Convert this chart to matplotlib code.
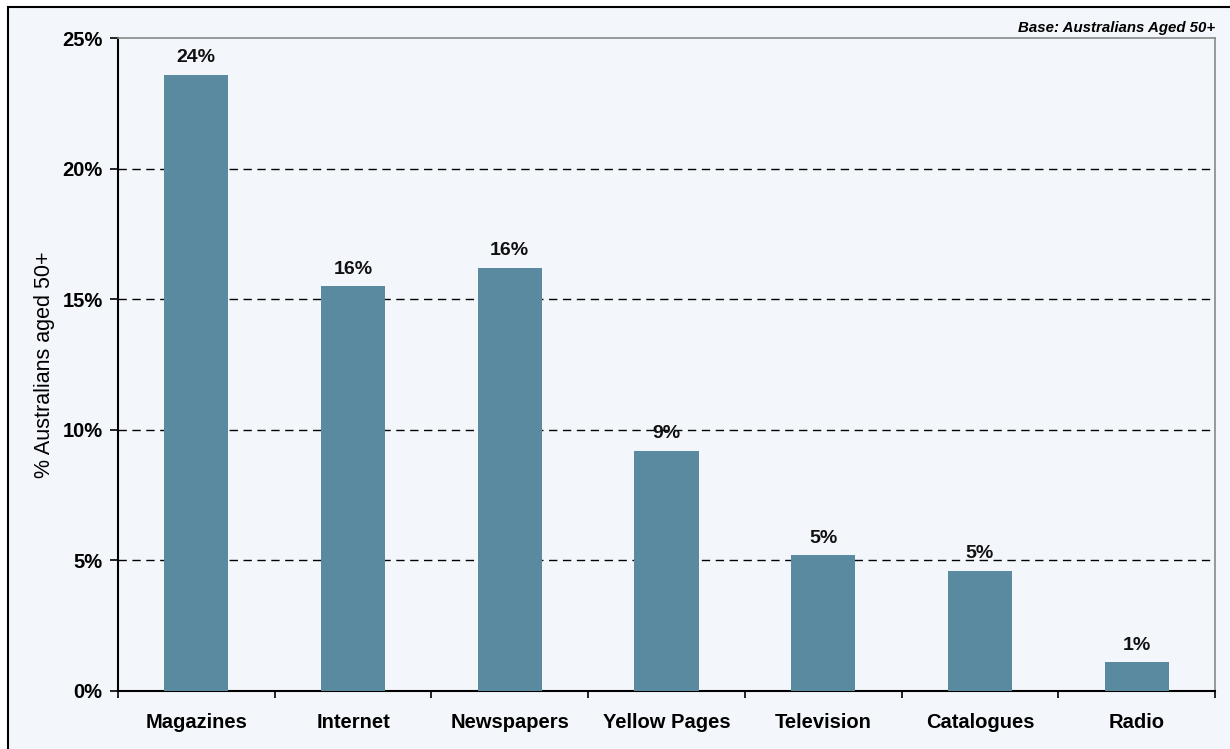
import matplotlib.pyplot as plt
from matplotlib.patches import Rectangle
from matplotlib.ticker import FixedLocator

plt.rcParams['font.family'] = ['Liberation Sans', 'DejaVu Sans']

categories = ['Magazines', 'Internet', 'Newspapers', 'Yellow Pages',
              'Television', 'Catalogues', 'Radio']
shares = [23.6, 15.5, 16.2, 9.2, 5.2, 4.6, 1.1]
y_ticks = [0, 5, 10, 15, 20, 25]

bg = '#f3f7fc'
bar_color = '#5a8a9f'

fig = plt.figure(figsize=(12.3, 7.49), dpi=100, facecolor='white')
# outer frame of the panel, kept behind the axes
fig.patches.append(Rectangle((8 / 1230, -0.01), 1.02, 1 - 7 / 749 + 0.01,
                             transform=fig.transFigure, facecolor=bg,
                             edgecolor='black', linewidth=1.5, zorder=-10))

ax = fig.add_axes([118 / 1230, 1 - 691 / 749, 1097 / 1230, 653 / 749])
ax.set_facecolor(bg)

x = range(len(categories))
ax.bar(x, shares, width=0.41, color=bar_color, zorder=3)
for xi, v in zip(x, shares):
    ax.text(xi, v + 0.33, f'{v:.0f}%', ha='center', va='bottom',
            fontsize=14, fontweight='bold', color='#111111')

ax.set_xlim(-0.5, len(categories) - 0.5)
ax.set_ylim(0, 25)
ax.set_yticks(y_ticks)
ax.set_yticklabels([f'{t}%' for t in y_ticks], fontsize=14.5, fontweight='bold')
for t in y_ticks[1:-1]:
    ax.axhline(t, color='black', linestyle=(0, (6, 4)), linewidth=1, zorder=1)

# category labels centred, ticks drawn on the boundaries
ax.xaxis.set_major_locator(FixedLocator([i - 0.5 for i in range(len(categories) + 1)]))
ax.xaxis.set_minor_locator(FixedLocator(list(x)))
ax.set_xticklabels([''] * (len(categories) + 1))
ax.set_xticklabels(categories, minor=True, fontsize=14.5, fontweight='bold')
ax.tick_params(axis='x', which='minor', length=0, pad=16)
ax.tick_params(axis='x', which='major', length=5, width=1.2, direction='out')
ax.tick_params(axis='y', length=6, width=1.2, direction='out', pad=5)

for side in ['top', 'right']:
    ax.spines[side].set_color('#888888')
    ax.spines[side].set_linewidth(1.2)
for side in ['left', 'bottom']:
    ax.spines[side].set_color('black')
    ax.spines[side].set_linewidth(1.5)

ax.set_ylabel('% Australians aged 50+', fontsize=15.5, labelpad=5)
fig.text(1215 / 1230, 1 - 28 / 749, 'Base: Australians Aged 50+', ha='right',
         va='center', fontsize=10.8, fontweight='bold', fontstyle='italic')

fig.savefig('out.png', dpi=100, facecolor=fig.get_facecolor())
